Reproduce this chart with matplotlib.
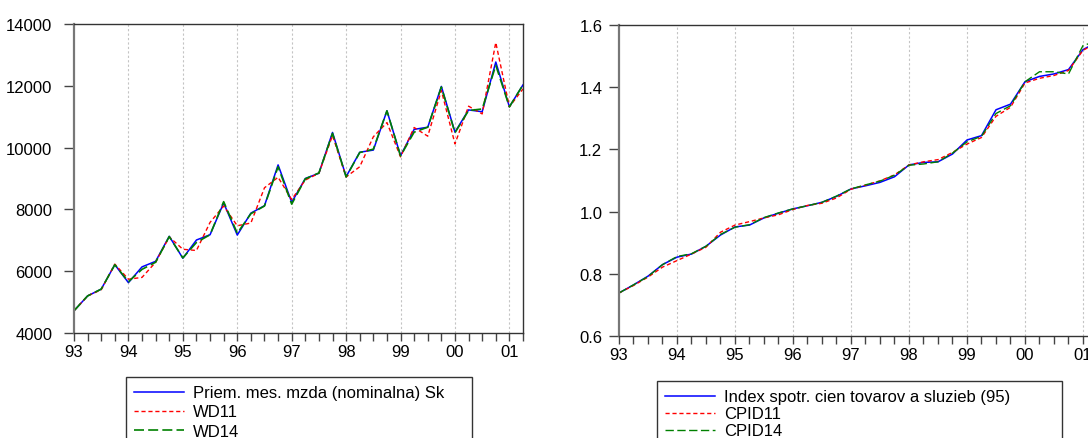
import numpy as np
import matplotlib
matplotlib.use("Agg")
import matplotlib.pyplot as plt
from matplotlib.ticker import MultipleLocator, FixedLocator, FormatStrFormatter

plt.rcParams['font.family'] = ['Liberation Sans', 'DejaVu Sans']

# quarterly data, 1993Q1 .. 2001Q2
years = list(range(1993, 2002))
year_labels = ['93', '94', '95', '96', '97', '98', '99', '00', '01']
n_quarters = 34

wage = [4720, 5200, 5420, 6210, 5630, 6140, 6320, 7130, 6420, 7010, 7180, 8210,
        7170, 7880, 8120, 9440, 8230, 9000, 9170, 10490, 9060, 9850, 9920, 11190,
        9740, 10590, 10660, 11980, 10500, 11220, 11160, 12770, 11320, 12030]
wd11 = [4720, 5200, 5400, 6230, 5740, 5800, 6290, 7110, 6710, 6670, 7580, 8110,
        7470, 7560, 8700, 9040, 8320, 8950, 9170, 10390, 9050, 9380, 10350, 10810,
        9700, 10650, 10370, 11850, 10120, 11340, 11090, 13400, 11320, 11900]
wd14 = [4720, 5200, 5420, 6210, 5660, 6060, 6290, 7120, 6430, 6930, 7180, 8250,
        7230, 7860, 8110, 9380, 8170, 8990, 9180, 10460, 9050, 9840, 9950, 11190,
        9730, 10500, 10660, 11960, 10480, 11200, 11250, 12660, 11320, 12030]

cpi = [0.739, 0.765, 0.793, 0.830, 0.854, 0.864, 0.889, 0.925, 0.951, 0.957, 0.980, 0.995,
       1.009, 1.019, 1.030, 1.049, 1.073, 1.083, 1.094, 1.112, 1.150, 1.158, 1.160, 1.185,
       1.230, 1.244, 1.327, 1.345, 1.417, 1.434, 1.442, 1.456, 1.520, 1.545]
cpid11 = [0.739, 0.763, 0.790, 0.822, 0.843, 0.864, 0.886, 0.934, 0.957, 0.968, 0.980, 0.990,
          1.007, 1.020, 1.027, 1.044, 1.072, 1.085, 1.099, 1.118, 1.150, 1.160, 1.167, 1.190,
          1.217, 1.238, 1.306, 1.335, 1.413, 1.428, 1.437, 1.453, 1.518, 1.542]
cpid14 = [0.739, 0.765, 0.792, 0.830, 0.856, 0.865, 0.889, 0.927, 0.950, 0.958, 0.981, 0.996,
          1.009, 1.019, 1.030, 1.050, 1.073, 1.086, 1.098, 1.117, 1.149, 1.153, 1.160, 1.188,
          1.224, 1.242, 1.315, 1.340, 1.417, 1.449, 1.449, 1.442, 1.533, 1.548]

t = 1993 + np.arange(n_quarters) / 4.0


def style_axis(ax, ylim, ystep, ypad):
    ax.set_xlim(1993, 2001.25)
    ax.set_ylim(*ylim)
    ax.xaxis.set_major_locator(FixedLocator(years))
    ax.set_xticklabels(year_labels)
    ax.xaxis.set_minor_locator(MultipleLocator(0.25))
    ax.yaxis.set_major_locator(MultipleLocator(ystep))
    ax.tick_params(axis='x', which='both', direction='out', length=6, width=1,
                   color='#444444', labelsize=12, pad=2)
    ax.tick_params(axis='y', direction='out', length=7, width=1,
                   color='#444444', labelsize=12, pad=ypad)
    for s in ax.spines.values():
        s.set_color('#333333')
        s.set_linewidth(1.0)
    ax.spines['left'].set_color('#777777')
    ax.spines['left'].set_linewidth(1.6)
    # dotted vertical grid at each year
    for y in years[1:]:
        ax.axvline(y, color='#c4c4c4', lw=0.8, ls=(0, (2, 2)), zorder=0)


fig = plt.figure(figsize=(10.88, 4.39), dpi=100)

# Left panel: wages
ax1 = fig.add_axes([74 / 1088, 1 - 334 / 439, 449 / 1088, 309 / 439])
l1, = ax1.plot(t, wage, color='#0000ff', lw=1.1, label='Priem. mes. mzda (nominalna) Sk')
l2, = ax1.plot(t, wd11, color='#ff0000', lw=1.0, ls=(0, (3, 2)), label='WD11')
l3, = ax1.plot(t, wd14, color='#008000', lw=1.2, ls=(0, (6, 2.5)), label='WD14')
style_axis(ax1, (4000, 14000), 2000, 8.5)

# Right panel: consumer price index
ax2 = fig.add_axes([619 / 1088, 1 - 337.3 / 439, 478.5 / 1088, 311.6 / 439])
r1, = ax2.plot(t, cpi, color='#0000ff', lw=1.1, label='Index spotr. cien tovarov a sluzieb (95)')
r2, = ax2.plot(t, cpid11, color='#ff0000', lw=1.0, ls=(0, (3, 2)), label='CPID11')
r3, = ax2.plot(t, cpid14, color='#008000', lw=1.0, ls=(0, (6, 2.5)), label='CPID14')
style_axis(ax2, (0.6, 1.6), 0.2, 5)
ax2.yaxis.set_major_formatter(FormatStrFormatter('%.1f'))

leg_kw = dict(loc='upper left', mode='expand', fontsize=12, frameon=True, fancybox=False,
              edgecolor='#333333', framealpha=1, borderaxespad=0, handlelength=3.0,
              handletextpad=0.5, borderpad=0.5)
leg1 = fig.legend(handles=[l1, l2, l3], labelspacing=0.25,
                  bbox_to_anchor=(126 / 1088, 1 - 378 / 439 - 0.01, 346 / 1088, 0.01), **leg_kw)
leg2 = fig.legend(handles=[r1, r2, r3], labelspacing=0.12,
                  bbox_to_anchor=(657 / 1088, 1 - 382 / 439 - 0.01, 405 / 1088, 0.01), **leg_kw)
for leg in (leg1, leg2):
    leg.get_frame().set_linewidth(1.0)

fig.savefig('out.png', dpi=100)
